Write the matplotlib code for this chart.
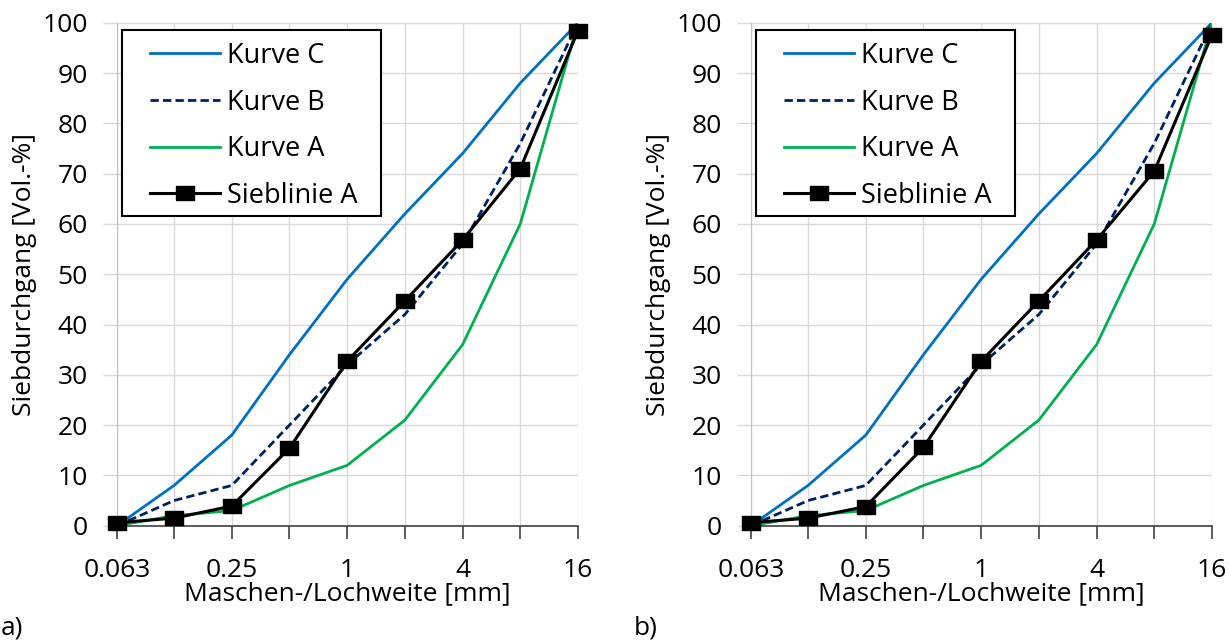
import matplotlib
matplotlib.use('Agg')
import matplotlib.pyplot as plt
from matplotlib.patches import Rectangle

plt.rcParams['font.family'] = ['Open Sans', 'DejaVu Sans']

# Sieve sizes [mm] and passing percentages
sieves = [0.063, 0.125, 0.25, 0.5, 1, 2, 4, 8, 16]
tick_labels = ['0.063', '', '0.25', '', '1', '', '4', '', '16']

kurve_c = [0, 8, 18, 34, 49, 62, 74, 88, 100]
kurve_b = [0, 5, 8, 20, 32, 42, 56, 76, 100]
kurve_a = [0, 2, 3, 8, 12, 21, 36, 60, 100]

sieblinie_a1 = [0.6, 1.5, 3.9, 15.4, 32.7, 44.7, 56.8, 71.0, 98.4]
sieblinie_a2 = [0.6, 1.5, 3.8, 15.6, 32.7, 44.7, 56.8, 70.5, 97.6]

panels = [('a)', sieblinie_a1), ('b)', sieblinie_a2)]

fig = plt.figure(figsize=(12.29, 6.44), dpi=100)

# axes positions in figure fractions (left, bottom, width, height)
rects = [(117/1229, 118.3/644, (578-117)/1229, 503/644),
         (751/1229, 118.3/644, (1212-751)/1229, 503/644)]
letter_x = [1/1229, 634/1229]

# slightly wide square marker, as in the reference
box = [(-1.25, -1), (1.25, -1), (1.25, 1), (-1.25, 1), (-1.25, -1)]

fs = 19

for (letter, sieb), rect, lx in zip(panels, rects, letter_x):
    ax = fig.add_axes(rect)
    ax.plot(sieves, kurve_c, color='#0070C0', lw=2.0, label='Kurve C')
    ax.plot(sieves, kurve_b, color='#002060', lw=2.0, ls=(0, (3, 1.5)), label='Kurve B')
    ax.plot(sieves, kurve_a, color='#00B050', lw=2.0, label='Kurve A')
    ax.plot(sieves, sieb, color='black', lw=2.2, marker=box, markersize=13,
            label='Sieblinie A', clip_on=False, zorder=5)

    ax.set_xscale('log', base=2)
    ax.set_xlim(sieves[0], sieves[-1])
    ax.set_ylim(0, 100)
    ax.set_xticks(sieves)
    ax.set_xticklabels(tick_labels)
    ax.minorticks_off()
    ax.set_yticks(range(0, 101, 10))

    ax.grid(True, color='#D9D9D9', lw=1.0)
    ax.set_axisbelow(True)
    for s in ['top', 'right']:
        ax.spines[s].set_visible(False)
    ax.spines['left'].set_color('#BFBFBF')
    ax.spines['bottom'].set_color('#404040')
    ax.spines['bottom'].set_linewidth(1.2)
    ax.tick_params(axis='x', direction='out', length=9, width=1.2,
                   color='#404040', labelsize=fs, pad=14)
    ax.tick_params(axis='y', direction='out', length=10, width=1.0,
                   color='#D9D9D9', labelsize=fs, pad=11)

    ax.set_xlabel('Maschen-/Lochweite [mm]', fontsize=fs, labelpad=-1)
    ax.set_ylabel('Siebdurchgang [Vol.-%]', fontsize=fs, labelpad=4)

    # legend frame drawn separately (wide side padding like the reference)
    ax.add_patch(Rectangle((0.011, 0.615), 0.562, 0.371, transform=ax.transAxes,
                           facecolor='white', edgecolor='black', lw=1.5,
                           zorder=9, clip_on=False))
    leg = ax.legend(loc='upper left', fontsize=19.5, frameon=False,
                    borderpad=0, labelspacing=0.69, handlelength=2.58,
                    handletextpad=0.26, bbox_to_anchor=(0.0716, 0.962),
                    borderaxespad=0)
    leg.set_zorder(10)

    fig.text(lx, 1 - 628/644, letter, fontsize=fs, va='center', ha='left')

fig.savefig('out.png', dpi=100)
